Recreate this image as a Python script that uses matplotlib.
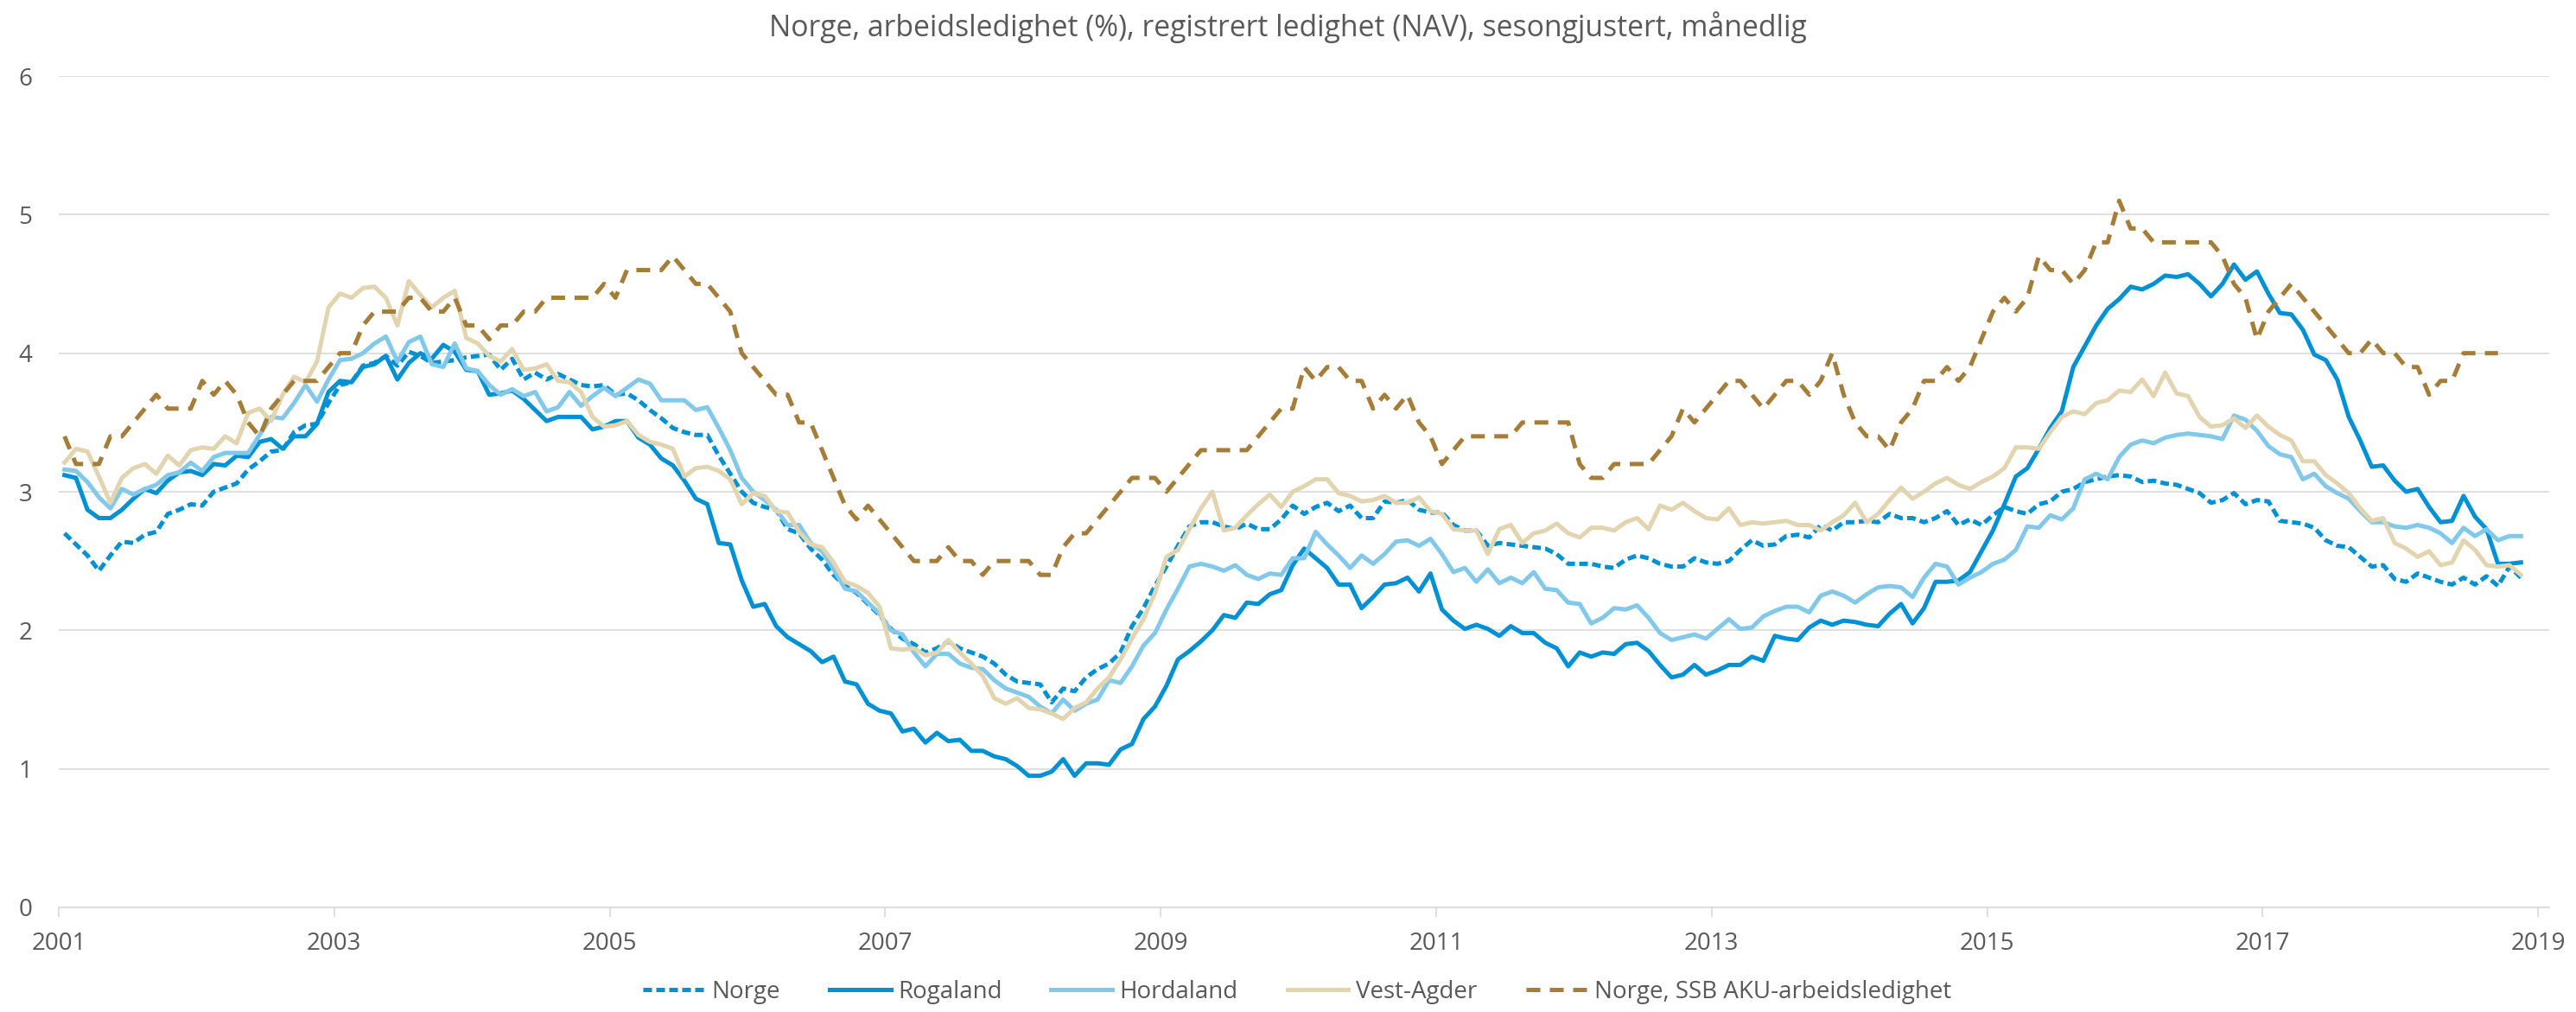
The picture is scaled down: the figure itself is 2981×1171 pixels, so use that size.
import numpy as np
import matplotlib
matplotlib.use("Agg")
import matplotlib.pyplot as plt

plt.rcParams['font.family'] = ['Open Sans', 'DejaVu Sans']

# monthly values, Jan 2001 ->
norge = [
    2.70, 2.62, 2.54, 2.43, 2.54, 2.64, 2.63, 2.69, 2.71, 2.84, 2.87, 2.91,
    2.90, 3.00, 3.03, 3.06, 3.16, 3.22, 3.29, 3.30, 3.43, 3.48, 3.49, 3.64,
    3.77, 3.79, 3.91, 3.93, 3.98, 3.91, 4.01, 3.98, 3.93, 3.94, 3.95, 3.97,
    3.98, 3.99, 3.88, 3.96, 3.81, 3.86, 3.81, 3.85, 3.81, 3.77, 3.76, 3.77,
    3.70, 3.71, 3.66, 3.59, 3.53, 3.46, 3.43, 3.41, 3.41, 3.26, 3.13, 3.00,
    2.92, 2.89, 2.87, 2.73, 2.70, 2.59, 2.51, 2.40, 2.32, 2.27, 2.19, 2.11,
    2.01, 1.94, 1.90, 1.84, 1.87, 1.92, 1.87, 1.84, 1.81, 1.76, 1.68, 1.63,
    1.62, 1.61, 1.48, 1.58, 1.56, 1.66, 1.72, 1.76, 1.84, 2.03, 2.16, 2.32,
    2.46, 2.61, 2.75, 2.78, 2.78, 2.75, 2.73, 2.77, 2.73, 2.73, 2.80, 2.90,
    2.84, 2.89, 2.92, 2.86, 2.90, 2.81, 2.81, 2.93, 2.92, 2.94, 2.87, 2.85,
    2.85, 2.76, 2.72, 2.72, 2.61, 2.63, 2.62, 2.61, 2.60, 2.59, 2.55, 2.48,
    2.48, 2.48, 2.46, 2.45, 2.51, 2.54, 2.52, 2.48, 2.46, 2.46, 2.52, 2.49,
    2.48, 2.50, 2.58, 2.65, 2.61, 2.62, 2.68, 2.69, 2.67, 2.76, 2.72, 2.78,
    2.78, 2.79, 2.78, 2.84, 2.81, 2.81, 2.78, 2.81, 2.86, 2.76, 2.80, 2.76,
    2.83, 2.89, 2.86, 2.84, 2.91, 2.93, 3.00, 3.02, 3.07, 3.09, 3.11, 3.12,
    3.11, 3.07, 3.08, 3.06, 3.05, 3.02, 2.99, 2.92, 2.94, 2.99, 2.91, 2.94,
    2.93, 2.79, 2.78, 2.77, 2.74, 2.65, 2.61, 2.60, 2.53, 2.46, 2.47, 2.37,
    2.35, 2.41, 2.38, 2.35, 2.33, 2.38, 2.33, 2.39, 2.32, 2.46, 2.38,
]

rogaland = [
    3.12, 3.10, 2.87, 2.81, 2.81, 2.87, 2.95, 3.02, 2.99, 3.08, 3.14, 3.15,
    3.12, 3.20, 3.19, 3.26, 3.25, 3.36, 3.38, 3.31, 3.40, 3.40, 3.49, 3.72,
    3.80, 3.79, 3.90, 3.92, 3.98, 3.81, 3.93, 4.00, 3.96, 4.06, 4.01, 3.88,
    3.87, 3.70, 3.71, 3.73, 3.67, 3.59, 3.51, 3.54, 3.54, 3.54, 3.45, 3.47,
    3.51, 3.51, 3.39, 3.34, 3.24, 3.19, 3.08, 2.95, 2.91, 2.63, 2.62, 2.36,
    2.17, 2.19, 2.03, 1.95, 1.90, 1.85, 1.77, 1.81, 1.63, 1.61, 1.47, 1.42,
    1.40, 1.27, 1.29, 1.19, 1.26, 1.20, 1.21, 1.13, 1.13, 1.09, 1.07, 1.02,
    0.95, 0.95, 0.98, 1.07, 0.95, 1.04, 1.04, 1.03, 1.14, 1.18, 1.36, 1.45,
    1.60, 1.79, 1.85, 1.92, 2.00, 2.11, 2.09, 2.20, 2.19, 2.26, 2.29, 2.47,
    2.59, 2.52, 2.45, 2.33, 2.33, 2.16, 2.24, 2.33, 2.34, 2.38, 2.28, 2.41,
    2.15, 2.07, 2.01, 2.04, 2.01, 1.96, 2.03, 1.98, 1.98, 1.91, 1.87, 1.74,
    1.84, 1.81, 1.84, 1.83, 1.90, 1.91, 1.85, 1.75, 1.66, 1.68, 1.75, 1.68,
    1.71, 1.75, 1.75, 1.81, 1.78, 1.96, 1.94, 1.93, 2.02, 2.07, 2.04, 2.07,
    2.06, 2.04, 2.03, 2.12, 2.19, 2.05, 2.16, 2.35, 2.35, 2.36, 2.42, 2.57,
    2.72, 2.91, 3.11, 3.17, 3.31, 3.46, 3.58, 3.90, 4.05, 4.20, 4.32, 4.39,
    4.48, 4.46, 4.50, 4.56, 4.55, 4.57, 4.50, 4.41, 4.50, 4.64, 4.53, 4.59,
    4.43, 4.29, 4.28, 4.17, 3.99, 3.95, 3.81, 3.54, 3.37, 3.18, 3.19, 3.08,
    3.00, 3.02, 2.89, 2.78, 2.79, 2.97, 2.82, 2.73, 2.48, 2.48, 2.49,
]

hordaland = [
    3.16, 3.15, 3.07, 2.96, 2.88, 3.02, 2.98, 3.02, 3.05, 3.12, 3.14, 3.21,
    3.15, 3.25, 3.28, 3.28, 3.28, 3.41, 3.54, 3.53, 3.64, 3.77, 3.65, 3.81,
    3.95, 3.96, 4.00, 4.07, 4.12, 3.94, 4.08, 4.12, 3.92, 3.90, 4.07, 3.89,
    3.87, 3.77, 3.70, 3.74, 3.69, 3.72, 3.58, 3.61, 3.72, 3.62, 3.69, 3.75,
    3.69, 3.75, 3.81, 3.78, 3.66, 3.66, 3.66, 3.59, 3.61, 3.46, 3.30, 3.10,
    3.00, 2.94, 2.87, 2.76, 2.76, 2.63, 2.57, 2.44, 2.30, 2.28, 2.20, 2.12,
    2.00, 1.97, 1.84, 1.74, 1.83, 1.83, 1.76, 1.73, 1.72, 1.64, 1.58, 1.55,
    1.52, 1.45, 1.40, 1.50, 1.42, 1.47, 1.50, 1.64, 1.62, 1.74, 1.89, 1.98,
    2.15, 2.30, 2.46, 2.48, 2.46, 2.43, 2.47, 2.40, 2.37, 2.41, 2.40, 2.52,
    2.52, 2.71, 2.62, 2.54, 2.45, 2.54, 2.48, 2.55, 2.64, 2.65, 2.61, 2.66,
    2.55, 2.42, 2.45, 2.35, 2.44, 2.34, 2.38, 2.34, 2.42, 2.30, 2.29, 2.20,
    2.19, 2.05, 2.09, 2.16, 2.15, 2.18, 2.09, 1.98, 1.93, 1.95, 1.97, 1.94,
    2.01, 2.08, 2.01, 2.02, 2.10, 2.14, 2.17, 2.17, 2.13, 2.25, 2.28, 2.25,
    2.20, 2.26, 2.31, 2.32, 2.31, 2.24, 2.38, 2.48, 2.46, 2.33, 2.38, 2.42,
    2.48, 2.51, 2.58, 2.75, 2.74, 2.83, 2.80, 2.88, 3.09, 3.13, 3.09, 3.25,
    3.34, 3.37, 3.35, 3.39, 3.41, 3.42, 3.41, 3.40, 3.38, 3.55, 3.52, 3.44,
    3.33, 3.27, 3.25, 3.09, 3.13, 3.04, 2.99, 2.95, 2.86, 2.78, 2.78, 2.75,
    2.74, 2.76, 2.74, 2.70, 2.63, 2.74, 2.68, 2.73, 2.65, 2.68, 2.68,
]

vest_agder = [
    3.21, 3.31, 3.29, 3.11, 2.92, 3.10, 3.17, 3.20, 3.13, 3.26, 3.19, 3.30,
    3.32, 3.31, 3.40, 3.35, 3.57, 3.60, 3.51, 3.70, 3.83, 3.79, 3.94, 4.33,
    4.43, 4.40, 4.47, 4.48, 4.40, 4.20, 4.52, 4.42, 4.33, 4.40, 4.45, 4.11,
    4.07, 3.98, 3.94, 4.03, 3.88, 3.89, 3.92, 3.80, 3.79, 3.72, 3.54, 3.47,
    3.48, 3.51, 3.41, 3.36, 3.34, 3.31, 3.11, 3.17, 3.18, 3.15, 3.09, 2.91,
    2.99, 2.97, 2.86, 2.85, 2.71, 2.62, 2.60, 2.49, 2.35, 2.32, 2.27, 2.17,
    1.87, 1.86, 1.87, 1.82, 1.84, 1.93, 1.84, 1.76, 1.67, 1.51, 1.47, 1.51,
    1.44, 1.43, 1.40, 1.36, 1.44, 1.48, 1.58, 1.66, 1.79, 1.94, 2.08, 2.27,
    2.53, 2.58, 2.73, 2.88, 3.00, 2.72, 2.74, 2.83, 2.91, 2.98, 2.89, 3.00,
    3.04, 3.09, 3.09, 2.99, 2.97, 2.93, 2.94, 2.97, 2.92, 2.92, 2.96, 2.86,
    2.84, 2.73, 2.72, 2.72, 2.55, 2.73, 2.76, 2.63, 2.70, 2.72, 2.77, 2.70,
    2.67, 2.74, 2.74, 2.72, 2.78, 2.81, 2.73, 2.90, 2.87, 2.92, 2.86, 2.81,
    2.80, 2.88, 2.76, 2.78, 2.77, 2.78, 2.79, 2.76, 2.76, 2.72, 2.78, 2.83,
    2.92, 2.78, 2.84, 2.94, 3.03, 2.95, 3.00, 3.06, 3.10, 3.05, 3.02, 3.07,
    3.11, 3.17, 3.32, 3.32, 3.31, 3.43, 3.54, 3.58, 3.56, 3.64, 3.66, 3.73,
    3.72, 3.81, 3.69, 3.86, 3.71, 3.69, 3.54, 3.47, 3.48, 3.53, 3.46, 3.55,
    3.47, 3.41, 3.37, 3.22, 3.22, 3.12, 3.06, 2.99, 2.88, 2.79, 2.81, 2.63,
    2.59, 2.53, 2.57, 2.47, 2.49, 2.65, 2.58, 2.47, 2.46, 2.47, 2.40,
]

ssb_aku = [
    3.4, 3.2, 3.2, 3.2, 3.4, 3.4, 3.5, 3.6, 3.7, 3.6, 3.6, 3.6,
    3.8, 3.7, 3.8, 3.7, 3.5, 3.4, 3.6, 3.7, 3.8, 3.8, 3.8, 3.9,
    4.0, 4.0, 4.2, 4.3, 4.3, 4.3, 4.4, 4.4, 4.3, 4.3, 4.4, 4.2,
    4.2, 4.1, 4.2, 4.2, 4.3, 4.3, 4.4, 4.4, 4.4, 4.4, 4.4, 4.5,
    4.4, 4.6, 4.6, 4.6, 4.6, 4.7, 4.6, 4.5, 4.5, 4.4, 4.3, 4.0,
    3.9, 3.8, 3.7, 3.7, 3.5, 3.5, 3.3, 3.1, 2.9, 2.8, 2.9, 2.8,
    2.7, 2.6, 2.5, 2.5, 2.5, 2.6, 2.5, 2.5, 2.4, 2.5, 2.5, 2.5,
    2.5, 2.4, 2.4, 2.6, 2.7, 2.7, 2.8, 2.9, 3.0, 3.1, 3.1, 3.1,
    3.0, 3.1, 3.2, 3.3, 3.3, 3.3, 3.3, 3.3, 3.4, 3.5, 3.6, 3.6,
    3.9, 3.8, 3.9, 3.9, 3.8, 3.8, 3.6, 3.7, 3.6, 3.7, 3.5, 3.4,
    3.2, 3.3, 3.4, 3.4, 3.4, 3.4, 3.4, 3.5, 3.5, 3.5, 3.5, 3.5,
    3.2, 3.1, 3.1, 3.2, 3.2, 3.2, 3.2, 3.3, 3.4, 3.6, 3.5, 3.6,
    3.7, 3.8, 3.8, 3.7, 3.6, 3.7, 3.8, 3.8, 3.7, 3.8, 4.0, 3.7,
    3.5, 3.4, 3.4, 3.3, 3.5, 3.6, 3.8, 3.8, 3.9, 3.8, 3.9, 4.1,
    4.3, 4.4, 4.3, 4.4, 4.7, 4.6, 4.6, 4.5, 4.6, 4.8, 4.8, 5.1,
    4.9, 4.9, 4.8, 4.8, 4.8, 4.8, 4.8, 4.8, 4.7, 4.5, 4.4, 4.1,
    4.3, 4.4, 4.5, 4.4, 4.3, 4.2, 4.1, 4.0, 4.0, 4.1, 4.0, 4.0,
    3.9, 3.9, 3.7, 3.8, 3.8, 4.0, 4.0, 4.0, 4.0,
]

year_ticks = list(range(2001, 2020, 2))
title = "Norge, arbeidsledighet (%), registrert ledighet (NAV), sesongjustert, månedlig"


def months(series):
    # mid-month position in decimal years
    return 2001 + (np.arange(len(series)) + 0.5) / 12


W, H = 2981, 1171
fig = plt.figure(figsize=(W / 100, H / 100), dpi=100)
ax = fig.add_axes([68 / W, 1 - 1050 / H, (2950 - 68) / W, (1050 - 88) / H])

blue = "#0091d5"
lw = 3.6
ax.plot(months(norge), norge, color=blue, lw=lw, dashes=(2.0, 1.0), label="Norge")
ax.plot(months(rogaland), rogaland, color=blue, lw=lw, label="Rogaland")
ax.plot(months(hordaland), hordaland, color="#82c8eb", lw=lw, label="Hordaland")
ax.plot(months(vest_agder), vest_agder, color="#e1d4af", lw=lw, label="Vest-Agder")
ax.plot(months(ssb_aku), ssb_aku, color="#a67d37", lw=lw, dashes=(3.2, 2.2),
        label="Norge, SSB AKU-arbeidsledighet")

ax.set_xlim(2001, 2001 + (2950 - 68) / 159.4)
ax.set_ylim(0, 6)
ax.set_yticks(range(0, 7))
ax.set_xticks(year_ticks)

grey = "#d9d9d9"
ax.yaxis.grid(True, color=grey, lw=1.2)
ax.set_axisbelow(True)
for s in ["top", "right", "left"]:
    ax.spines[s].set_visible(False)
ax.spines["bottom"].set_color(grey)
ax.spines["bottom"].set_linewidth(1.2)

ax.tick_params(axis="x", length=8, width=1.2, color=grey, labelsize=20,
               labelcolor="#595959", pad=12)
ax.tick_params(axis="y", length=0, labelsize=20, labelcolor="#595959", pad=22)

fig.text(0.5, 1 - 42 / H, title, ha="center", va="baseline", fontsize=24.3, color="#595959")

fig.legend(loc="center", bbox_to_anchor=(0.5036, 0.0196), ncol=5, frameon=False,
           fontsize=20, handlelength=2.55, handletextpad=0.3, columnspacing=2.05,
           labelcolor="#595959")

fig.savefig("out.png", dpi=100)
